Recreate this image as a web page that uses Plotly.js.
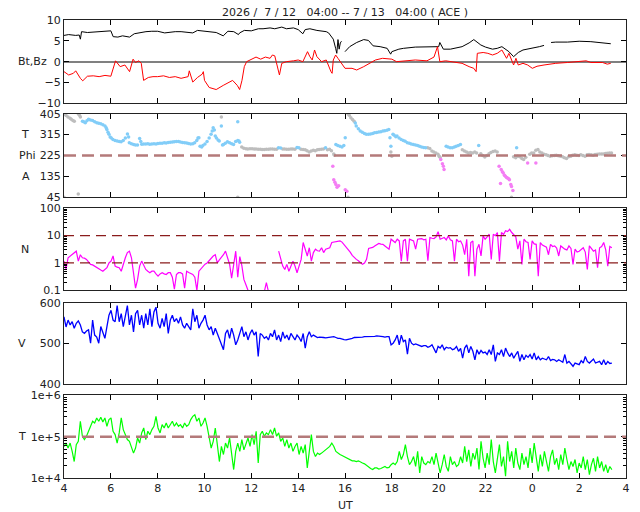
<!DOCTYPE html>
<html><head><meta charset="utf-8">
<script src="https://cdn.plot.ly/plotly-3.0.1.min.js"></script>
<style>html,body{margin:0;padding:0;background:#fff}#chart{width:640px;height:512px}</style>
</head><body><div id="chart"></div>
<script>
// ---------- axis labels ----------
const xTickVals = [4,6,8,10,12,14,16,18,20,22,24,26,28];
const xTickText = ['4','6','8','10','12','14','16','18','20','22','0','2','4'];
const titleText = '2026 /\u00a0\u00a07 / 12\u00a0\u00a0\u00a004:00 --\u00a07 / 13\u00a0\u00a0\u00a004:00 ( ACE )';
const nMinorTicks = [0.2,0.3,0.4,0.5,0.6,0.7,0.8,0.9,2,3,4,5,6,7,8,9,20,30,40,50,60,70,80,90];
const tMinorTicks = [2e4,3e4,4e4,5e4,6e4,7e4,8e4,9e4,2e5,3e5,4e5,5e5,6e5,7e5,8e5,9e5];

// ---------- Bt / Bz (nT) ----------
const btTime = [4.0,4.2,4.5,4.65,4.7,4.75,5.0,5.25,5.5,5.75, 6.0,6.1,6.3,6.5,6.75,6.8,7.0,7.25,7.5,7.75,
 8.0,8.3,8.5,8.75,9.0,9.25,9.5,9.7,10.0,10.25, 10.5,10.8,11.0,11.25,11.45,11.5,11.7,12.0,12.3,12.5,
 12.8,13.0,13.3,13.5,13.8,14.0,14.2,14.3,14.5,14.8, 15.0,15.2,15.3,15.4,15.5,15.6,15.65,15.7,15.75,15.8,
 15.85,15.9,16.0,16.2,16.5,16.8,17.0,17.2,17.5,17.8, 17.95,18.0,18.3,18.5,19.0,19.5,20.0,20.05,20.2,20.5,
 21.0,21.3,21.5,21.8,22.0,22.3,22.5,22.7,22.9,23.0, 23.2,23.4,23.6,24.0,24.3,24.5,24.6,24.8,25.0,25.5,
 26.0,26.5,27.0,27.35];
const btVal = [6.3,6.5,6.3,6.4,5.4,7.2,7.0,7.1,7.3,7.4, 7.4,6.0,5.9,6.2,5.8,5.9,6.7,7.0,7.2,7.3,
 7.3,6.9,7.1,7.2,7.2,7.0,6.9,7.5,7.3,7.2, 7.0,6.2,7.3,7.2,6.5,6.9,7.5,7.4,7.9,7.9,
 8.1,7.9,8.3,7.9,8.1,7.7,6.7,7.7,7.9,7.5, 7.3,7.2,6.9,6.1,5.4,3.2,2.0,5.3,3.0,4.5,
 4.9,null,2.4,3.6,4.6,5.3,5.1,3.8,3.6,3.2, 1.8,2.4,3.0,3.2,3.5,3.6,3.6,4.6,3.0,3.0,
 3.6,4.5,5.3,4.0,3.5,3.0,3.2,3.6,2.8,2.4, 1.2,2.2,2.8,3.2,3.6,3.9,null,4.6,4.7,4.7,
 4.9,4.8,4.6,4.3];
const bzTime = [4.0,4.2,4.4,4.5,4.7,4.8,5.0,5.25,5.5,5.75, 6.0,6.1,6.2,6.4,6.6,6.8,6.95,7.05,7.2,7.3,
 7.4,7.6,7.8,8.0,8.25,8.5,8.75,9.0,9.3,9.35, 9.5,9.7,9.9,9.95,10.0,10.2,10.5,10.8,11.0,11.2,
 11.4,11.5,11.6,11.7,11.8,12.0,12.2,12.4,12.6,12.8, 12.9,13.0,13.2,13.3,13.5,13.8,14.0,14.2,14.4,14.5,
 14.6,14.7,14.8,15.0,15.2,15.4,15.45,15.5,15.6,15.7, 15.8,16.0,16.3,16.5,16.8,17.0,17.3,17.6,18.0,18.2,
 18.5,19.0,19.5,19.8,19.95,20.05,20.3,20.5,21.0,21.3, 21.5,21.6,21.65,21.9,22.1,22.3,22.5,22.7,22.9,23.0,
 23.2,23.3,23.4,23.6,23.8,24.0,24.2,24.5,25.0,25.5, 26.0,26.3,26.5,27.0,27.2,27.35];
const bzVal = [-2.4,-3.2,-2.8,-2.2,-4.0,-4.6,-3.5,-3.4,-3.6,-3.3, -3.5,-1.5,0.2,-1.2,-0.8,-2.4,0.6,-0.2,0.2,-0.4,
 -4.5,-3.8,-3.6,-3.6,-3.4,-3.8,-3.6,-4.0,-3.6,-2.2, -4.9,-3.8,-3.0,-2.4,-4.5,-6.2,-6.7,-5.7,-5.1,-4.5,
 -5.7,-6.7,-4.5,-1.2,0.0,0.6,1.1,0.6,1.1,0.8, 1.6,1.4,-3.2,-0.4,0.0,0.2,0.4,0.0,2.4,1.2,
 0.4,2.8,1.2,0.0,0.4,-2.4,-2.8,0.4,1.6,0.8, 0.0,-1.6,-1.6,-2.0,-1.2,-0.6,0.4,0.8,0.6,0.0,
 0.2,0.4,0.2,1.1,3.6,0.0,0.2,0.0,-0.4,-1.2, -1.6,-2.4,2.0,2.2,2.0,1.6,2.0,2.8,0.8,2.0,
 -0.8,0.8,-0.8,-0.4,-0.8,-1.6,-1.1,-0.8,-0.4,-0.2, 0.0,0.2,-0.2,-0.2,-0.6,-0.4];

// ---------- Phi (deg), by sector colour ----------
const phiBlueTime = [4.79,4.84,4.91,4.98,5.05,5.13,5.22,5.31,5.40,5.48, 5.57,5.66,5.75,5.80,5.83,5.88,5.92,5.97,6.02,6.09,
 6.18,6.27,6.36,6.44,6.53,6.62,6.71,6.76,6.79,6.88, 6.97,7.05,7.14,7.23,7.28,7.32,7.40,7.49,7.58,7.66,
 7.75,7.84,7.93,8.01,8.10,8.19,8.28,8.36,8.45,8.54, 8.63,8.71,8.80,8.89,8.97,9.06,9.15,9.24,9.32,9.41,
 9.50,9.58,9.67,9.72,9.76,9.81,9.88,9.93,10.02,10.11, 10.20,10.28,10.33,10.37,10.42,10.46,10.51,10.58,10.63,10.72,
 10.77,10.81,10.89,10.98,11.07,11.16,11.24,11.33,11.42,11.47, 11.50,11.42,13.16,13.25,13.95,14.03,15.17,15.61,15.69,15.78,
 15.87,15.95,16.01,16.44,16.48,16.57,16.65,16.74,16.83,16.91, 17.00,17.09,17.18,17.26,17.35,17.44,17.53,17.62,17.70,17.79,
 17.87,17.92,17.96,18.05,18.10,18.17,18.22,18.31,18.40,18.49, 18.57,18.66,18.75,18.83,18.92,19.01,19.10,19.18,19.27,19.36,
 19.44,20.32,20.40,20.49,20.58,20.67,20.75,20.84,20.93,21.71, 23.33];
const phiBlueVal = [373,370,366,375,381,378,376,370,366,364, 362,357,352,345,337,325,316,305,300,294,
 290,287,285,284,290,300,318,305,280,276, 272,270,270,298,285,274,275,275,276,274,
 275,276,275,277,278,278,280,279,281,282, 283,284,285,285,283,281,280,279,277,275,
 276,280,290,300,301,265,262,268,275,285, 300,316,330,344,335,309,300,292,287,352,
 270,272,278,284,280,276,272,285,290,287, 282,370,258,257,260,258,258,272,268,265,
 262,268,301,365,352,340,330,325,320,316, 316,318,320,323,324,326,327,330,332,334,
 337,301,265,316,312,306,309,300,294,290, 286,280,278,275,272,270,268,265,262,260,
 258,265,262,258,258,262,265,268,272,268, 258];
const phiGrayTime = [4.00,4.09,4.17,4.26,4.31,4.38,4.44,4.61,4.66,4.70, 4.00,4.61,10.72,11.42,11.59,11.68,11.77,11.85,11.94,12.03,
 12.12,12.20,12.29,12.38,12.46,12.55,12.64,12.73,12.81,12.90, 12.99,13.08,13.34,13.42,13.51,13.60,13.69,13.77,13.86,14.12,
 14.21,14.30,14.38,14.47,14.56,14.65,14.73,14.82,14.90,14.99, 15.08,15.25,15.34,15.42,15.52,15.55,16.13,16.13,16.18,16.25,
 16.32,16.39,18.00,17.96,19.53,19.62,19.71,19.79,19.88,19.97, 20.02,20.06,21.01,21.10,21.19,21.27,21.36,21.45,21.54,21.62,
 21.80,21.88,21.97,22.06,22.15,22.23,22.32,22.41,22.50,23.11, 23.20,23.29,23.37,23.46,23.55,23.63,23.72,23.89,23.97,24.06,
 24.15,24.24,24.32,24.41,24.50,24.59,24.67,24.76,24.85,24.94, 25.02,25.11,25.20,25.29,25.37,25.46,25.55,25.64,25.72,25.81,
 25.90,25.99,26.07,26.16,26.25,26.34,26.42,26.51,26.60,26.68, 26.77,26.86,26.95,27.03,27.12,27.20,27.29,27.38];
const phiGrayVal = [402,397,391,385,381,376,373,405,398,391, 45,59,391,45,262,256,254,253,254,254,
 253,253,252,252,251,251,252,252,253,253, 252,252,253,253,252,252,253,253,252,252,
 251,250,246,240,244,248,245,250,251,252, 253,250,252,246,232,226,45,405,398,388,
 380,373,222,240,258,255,244,240,236,230, 222,218,250,244,240,236,238,236,240,236,
 233,225,219,225,233,238,242,244,240,45, 220,215,222,220,212,208,218,230,236,236,
 248,251,240,236,230,228,225,222,224,225, 226,224,222,220,215,212,220,222,226,228,
 226,225,228,225,222,228,229,228,226,229, 230,231,232,232,234,235,236,236];
const phiMagTime = [15.48,15.52,15.57,15.61,15.66,15.73,16.01,16.08,20.09,20.16,
 20.20,20.23,22.58,22.64,22.67,22.72,22.76,22.81,22.85,22.90, 22.94,22.99,23.02,23.08,23.11,23.17,23.80,24.15];
const phiMagVal = [179,121,110,100,88,95,78,71,208,190,
 179,165,179,104,165,155,150,140,136,130, 128,125,121,100,92,74,193,193];

// ---------- N, V, T on a regular sampling grid ----------
const gridStartHour = 4.0;
const gridStepHour = 0.0873;
const nVal = [1.17,0.6,1.55,1.8,2.0,2.4,2.7,1.17,2.0,1.55,
 1.5,1.35,1.1,0.89,0.85,0.75,0.67,0.6,0.55,0.5,
 0.6,0.67,1.0,1.17,1.8,0.77,0.7,0.67,0.5,1.0,
 1.55,2.4,2.7,1.55,0.33,0.12,0.25,0.77,1.17,0.8,
 0.58,0.5,0.44,0.5,0.5,0.4,0.33,0.4,0.44,0.4,
 0.38,0.44,0.44,0.3,0.11,0.38,0.44,0.44,0.4,0.12,
 0.5,0.45,0.4,0.38,0.3,0.1,0.5,0.6,0.77,0.9,
 1.0,1.2,1.55,1.8,2.0,1.0,1.3,1.55,2.0,2.7,
 1.6,0.9,0.28,1.0,2.7,0.3,1.7,0.8,0.25,0.16,
 0.1,0.09,0.08,0.08,null,null,null,null,0.09,0.19,
 0.09,null,null,null,null,2.7,1.55,0.77,0.58,0.89,
 0.5,0.77,1.17,0.77,0.44,0.77,1.35,5.6,3.2,1.8,
 3.6,1.17,2.4,3.2,2.8,2.7,3.6,2.4,3.2,3.4,
 3.6,5.6,5.8,6.0,6.2,6.4,5.8,4.8,4.0,3.2,
 2.5,1.9,1.55,1.35,1.2,1.0,0.89,1.0,1.35,3.4,
 3.6,3.7,4.2,4.8,5.2,4.9,4.8,4.2,3.7,3.2,
 7.4,6.4,5.6,7.4,6.4,1.17,6.4,7.4,1.17,7.4,
 7.0,6.4,3.2,7.4,7.6,7.8,7.0,7.4,1.2,8.5,
 8.0,7.8,9.0,14,7.4,8.0,8.5,7.0,9.8,7.0,
 6.4,1.17,7.4,6.0,6.4,4.5,2.0,7.4,0.33,5.6,
 6.4,0.33,3.2,4.8,1.8,9.8,7.4,9.0,11.3,1.35,
 11.3,10,13,1.17,13,11,15,14,17,13,
 11,9,3.2,6.4,0.89,7.4,6.0,5.6,1.35,6.4,
 5.0,4.8,0.33,5.6,4.5,4.2,3.8,2.0,4.8,4.0,
 4.2,3.5,1.8,4.2,3.6,3.2,3.0,4.2,3.4,0.89,
 3.2,2.5,2.7,3.2,3.6,2.5,0.58,4.2,3.2,2.7,
 3.0,0.67,3.6,4.0,5.6,3.0,0.77,4.0,3.6];
const vVal = [565,540,557,545,553,537,549,555,545,528,
 524,530,533,500,557,520,515,500,541,524,
 512,541,569,581,557,553,593,553,573,541,
 565,593,545,569,528,573,581,545,569,537,
 573,545,585,541,577,589,549,537,561,541,
 573,524,557,569,553,561,549,565,545,537,
 549,541,533,585,553,569,537,549,557,569,
 545,533,541,520,537,524,512,496,484,524,
 533,512,537,520,496,508,528,541,516,528,
 508,524,533,520,528,467,524,520,512,516,
 508,524,516,533,508,520,504,528,512,520,
 508,524,516,508,520,514,504,524,488,516,
 528,516,520,516,514,515,515,514,513,514,
 514,515,516,514,512,512,510,509,508,509,
 510,512,514,514,515,515,515,516,516,516,
 516,517,517,518,518,517,516,515,516,516,
 496,500,508,520,496,520,504,508,473,512,
 500,496,498,496,494,492,494,494,490,492,
 496,484,476,492,488,496,484,490,488,489,
 484,486,492,480,487,463,488,496,476,492,
 480,459,484,473,482,476,478,472,484,472,
 496,455,476,472,484,467,488,476,467,476,
 463,472,480,455,472,459,470,465,472,461,
 476,459,467,459,463,461,459,467,457,460,
 459,455,459,456,453,472,451,455,450,443,
 451,449,447,457,451,467,455,451,457,461,
 451,453,455,447,459,447,455,450,451];
const tVal = [58e3,70e3,53e3,70e3,44e3,25e3,64e3,77e3,235e3,102e3,
 85e3,102e3,135e3,178e3,235e3,214e3,283e3,235e3,295e3,225e3,
 283e3,178e3,258e3,283e3,135e3,112e3,70e3,123e3,283e3,148e3,
 112e3,85e3,77e3,58e3,40e3,53e3,93e3,70e3,123e3,162e3,
 85e3,135e3,112e3,148e3,178e3,310e3,162e3,123e3,195e3,162e3,
 214e3,162e3,195e3,235e3,178e3,214e3,178e3,195e3,162e3,214e3,
 178e3,195e3,258e3,310e3,339e3,235e3,283e3,178e3,214e3,283e3,
 178e3,102e3,53e3,77e3,162e3,64e3,25e3,58e3,37e3,70e3,
 53e3,93e3,44e3,16e3,44e3,70e3,44e3,85e3,48e3,64e3,
 93e3,58e3,112e3,64e3,135e3,23e3,112e3,135e3,102e3,123e3,
 112e3,148e3,112e3,162e3,102e3,123e3,77e3,93e3,58e3,85e3,
 53e3,70e3,44e3,58e3,70e3,37e3,58e3,40e3,64e3,17.5e3,
 53e3,112e3,44e3,33e3,40e3,37e3,40e3,44e3,48e3,53e3,
 58e3,70e3,58e3,44e3,40e3,37e3,35e3,33e3,31e3,30e3,
 28e3,26e3,26e3,25e3,26e3,24e3,23e3,22e3,20e3,18e3,
 17e3,16e3,17.5e3,17.5e3,16.5e3,17e3,18e3,19e3,17.5e3,18e3,
 21e3,23e3,21e3,25e3,44e3,28e3,37e3,64e3,33e3,21e3,
 25e3,33e3,19e3,44e3,13.3e3,33e3,23e3,21e3,25e3,23e3,
 33e3,21e3,40e3,23e3,13.3e3,21e3,37e3,19e3,14.5e3,33e3,
 21e3,25e3,19e3,21e3,33e3,23e3,58e3,25e3,48e3,19e3,
 40e3,28e3,53e3,16e3,77e3,30e3,17.5e3,40e3,21e3,85e3,
 25e3,13.3e3,33e3,64e3,19e3,33e3,11e3,77e3,25e3,44e3,
 17.5e3,53e3,23e3,16e3,40e3,21e3,33e3,17.5e3,53e3,23e3,
 70e3,30e3,14.5e3,37e3,19e3,44e3,25e3,14.5e3,33e3,48e3,
 21e3,30e3,16e3,37e3,21e3,53e3,28e3,16e3,25e3,19e3,
 28e3,13.3e3,23e3,17.5e3,33e3,16e3,28e3,12e3,21e3,30e3,
 14.5e3,33e3,17.5e3,25e3,14.5e3,21e3,13.3e3,19e3,16e3];

// reference levels
const phiRef = 225;
const nRefs = [1, 10];
const tRef = 1e5;

// ---------- build ----------
const gridTime = nVal.map((_, i) => gridStartHour + i * gridStepHour);
const FONT = 'DejaVu Sans, Verdana, sans-serif';

const traces = [
  {x: btTime, y: btVal, xaxis:'x', yaxis:'y', mode:'lines', line:{color:'#000000', width:1}, connectgaps:false},
  {x: bzTime, y: bzVal, xaxis:'x', yaxis:'y', mode:'lines', line:{color:'#ff0000', width:1}, connectgaps:false},
  {x: phiGrayTime, y: phiGrayVal, xaxis:'x2', yaxis:'y2', mode:'markers', marker:{color:'#bdbdbd', size:3.5}},
  {x: phiBlueTime, y: phiBlueVal, xaxis:'x2', yaxis:'y2', mode:'markers', marker:{color:'#82cdf8', size:3.5}},
  {x: phiMagTime, y: phiMagVal, xaxis:'x2', yaxis:'y2', mode:'markers', marker:{color:'#f47ef4', size:3.5}},
  {x: gridTime, y: nVal, xaxis:'x3', yaxis:'y3', mode:'lines', line:{color:'#ff00ff', width:1.2}, connectgaps:false},
  {x: gridTime, y: vVal, xaxis:'x4', yaxis:'y4', mode:'lines', line:{color:'#0000ff', width:1.3}},
  {x: gridTime, y: tVal, xaxis:'x5', yaxis:'y5', mode:'lines', line:{color:'#00ff00', width:1.2}}
];

function xAxis(anchor, showLabels) {
  return {domain:[0,1], anchor: anchor, range:[4,28], tickmode:'array', tickvals:xTickVals, ticktext:xTickText,
    showticklabels: showLabels, ticks:'inside', ticklen:5, tickcolor:'#000', tickwidth:1,
    showline:true, linecolor:'#222', linewidth:1, mirror:'ticks', showgrid:false, zeroline:false,
    tickfont:{family:FONT, size:11, color:'#222'}};
}
function yAxis(anchor, domain, extra) {
  return Object.assign({domain: domain, anchor: anchor, ticks:'inside', ticklen:5, tickcolor:'#000', tickwidth:1,
    showline:true, linecolor:'#222', linewidth:1, mirror:'ticks', showgrid:false, zeroline:false,
    tickfont:{family:FONT, size:11, color:'#222'}, tickmode:'array'}, extra);
}
function minorLog(vals) {
  return {tickmode:'array', tickvals: vals, ticks:'inside', ticklen:3, tickcolor:'#000', tickwidth:1, showgrid:false};
}

const layout = {
  width:640, height:512, showlegend:false,
  margin:{l:64, r:14, t:20, b:34},
  paper_bgcolor:'#ffffff', plot_bgcolor:'#ffffff',
  font:{family:FONT, size:11, color:'#222'},
  title:{text:titleText, x:0.5, xref:'paper', xanchor:'center', y:1-12/512, yref:'container', yanchor:'middle',
    font:{family:FONT, size:11, color:'#222'}},
  xaxis: xAxis('y', false), xaxis2: xAxis('y2', false), xaxis3: xAxis('y3', false),
  xaxis4: xAxis('y4', false), xaxis5: xAxis('y5', true),
  yaxis: yAxis('x', [0.8181, 1.0], {range:[-10,10], tickvals:[-10,-5,0,5,10], ticktext:['\u221210','\u22125','0','5','10'],
    zeroline:true, zerolinecolor:'#808080', zerolinewidth:2}),
  yaxis2: yAxis('x2', [0.6129, 0.7954], {range:[45,405], tickvals:[45,135,225,315,405], ticktext:['45','135','225','315','405']}),
  yaxis3: yAxis('x3', [0.4098, 0.5889], {type:'log', range:[-1,2], tickvals:[0.1,1,10,100], ticktext:['0.1','1','10','100'], minor: minorLog(nMinorTicks)}),
  yaxis4: yAxis('x4', [0.2059, 0.3828], {range:[400,600], tickvals:[400,500,600], ticktext:['400','500','600']}),
  yaxis5: yAxis('x5', [0, 0.1806], {type:'log', range:[4,6], tickvals:[1e4,1e5,1e6], ticktext:['1e+4','1e+5','1e+6'], minor: minorLog(tMinorTicks)}),
  shapes: [
    {type:'line', xref:'x2 domain', yref:'y2', x0:0, x1:1, y0:phiRef, y1:phiRef, line:{color:'#b47a7a', width:2.5, dash:'12px,6px'}},
    {type:'line', xref:'x3 domain', yref:'y3', x0:0, x1:1, y0:nRefs[0], y1:nRefs[0], line:{color:'#8a1c1c', width:1.2, dash:'10px,6px'}},
    {type:'line', xref:'x3 domain', yref:'y3', x0:0, x1:1, y0:nRefs[1], y1:nRefs[1], line:{color:'#8a1c1c', width:1.2, dash:'10px,6px'}},
    {type:'line', xref:'x5 domain', yref:'y5', x0:0, x1:1, y0:tRef, y1:tRef, line:{color:'#b47a7a', width:2.5, dash:'12px,6px'}}
  ],
  annotations: [
    {text:'Bt,Bz', xref:'paper', yref:'y', x:(32-64)/562, y:0, showarrow:false, xanchor:'center', yanchor:'middle', font:{size:11}},
    {text:'T', xref:'paper', yref:'y2', x:(25-64)/562, y:315, showarrow:false, xanchor:'center', yanchor:'middle', font:{size:11}},
    {text:'Phi', xref:'paper', yref:'y2', x:(27-64)/562, y:225, showarrow:false, xanchor:'center', yanchor:'middle', font:{size:11}},
    {text:'A', xref:'paper', yref:'y2', x:(26-64)/562, y:135, showarrow:false, xanchor:'center', yanchor:'middle', font:{size:11}},
    {text:'N', xref:'paper', yref:'y3', x:(25-64)/562, y:0.5, showarrow:false, xanchor:'center', yanchor:'middle', font:{size:11}},
    {text:'V', xref:'paper', yref:'y4', x:(22-64)/562, y:500, showarrow:false, xanchor:'center', yanchor:'middle', font:{size:11}},
    {text:'T', xref:'paper', yref:'y5', x:(22-64)/562, y:5, showarrow:false, xanchor:'center', yanchor:'middle', font:{size:11}},
    {text:'UT', xref:'paper', yref:'paper', x:(345-64)/562, y:-(505-478)/458, showarrow:false, xanchor:'center', yanchor:'middle', font:{size:11}}
  ]
};

Plotly.newPlot('chart', traces, layout, {staticPlot:true, displayModeBar:false});
</script></body></html>
